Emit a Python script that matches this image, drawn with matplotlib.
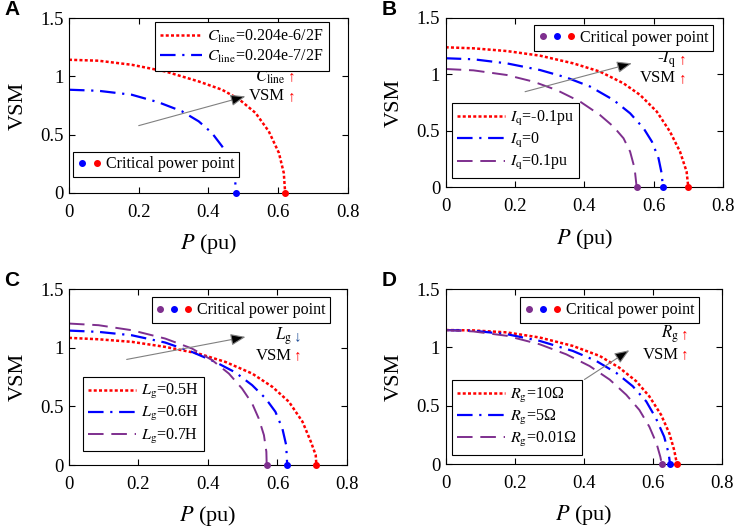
import matplotlib
matplotlib.use('Agg')
import matplotlib.pyplot as plt
from matplotlib.lines import Line2D
from matplotlib.legend_handler import HandlerTuple

plt.rcParams['font.family'] = ['Liberation Serif', 'DejaVu Sans']
plt.rcParams['mathtext.fontset'] = 'stix'

RED = '#ff0000'
BLUE = '#0000ff'
PURPLE = '#7e2f8e'

# ---- data (P in pu, VSM) ----
# A: line capacitance
a_p_red = [0, 0.084, 0.180, 0.276, 0.372, 0.439, 0.487, 0.535, 0.573, 0.602, 0.616, 0.620]
a_v_red = [1.142, 1.134, 1.099, 1.042, 0.956, 0.885, 0.805, 0.686, 0.528, 0.343, 0.171, 0]
a_p_blue = [0, 0.084, 0.180, 0.257, 0.324, 0.372, 0.410, 0.439, 0.463, 0.474, 0.478, 0.478]
a_v_blue = [0.885, 0.876, 0.842, 0.777, 0.700, 0.614, 0.514, 0.400, 0.286, 0.171, 0.057, 0]

# B: reactive current
b_p_red = [0, 0.080, 0.176, 0.272, 0.368, 0.445, 0.513, 0.561, 0.609, 0.647, 0.676, 0.695, 0.700]
b_v_red = [1.239, 1.230, 1.206, 1.165, 1.097, 1.024, 0.920, 0.817, 0.670, 0.493, 0.316, 0.139, 0]
b_p_blue = [0, 0.080, 0.176, 0.272, 0.349, 0.417, 0.484, 0.532, 0.571, 0.595, 0.614, 0.624, 0.626]
b_v_blue = [1.142, 1.133, 1.097, 1.038, 0.971, 0.891, 0.773, 0.655, 0.522, 0.404, 0.257, 0.109, 0]
b_p_purple = [0, 0.080, 0.176, 0.253, 0.320, 0.388, 0.445, 0.484, 0.513, 0.532, 0.545, 0.551]
b_v_purple = [1.047, 1.035, 0.994, 0.935, 0.861, 0.758, 0.640, 0.537, 0.434, 0.316, 0.168, 0]

# C: grid inductance
c_p_red = [0, 0.085, 0.181, 0.277, 0.373, 0.450, 0.527, 0.585, 0.633, 0.672, 0.696, 0.710, 0.712]
c_v_red = [1.084, 1.072, 1.050, 1.007, 0.950, 0.879, 0.780, 0.667, 0.539, 0.369, 0.199, 0.085, 0]
c_p_blue = [0, 0.085, 0.181, 0.277, 0.354, 0.421, 0.479, 0.527, 0.566, 0.594, 0.614, 0.625, 0.628]
c_v_blue = [1.146, 1.135, 1.106, 1.044, 0.964, 0.879, 0.789, 0.681, 0.567, 0.454, 0.312, 0.170, 0]
c_p_purple = [0, 0.085, 0.181, 0.277, 0.354, 0.412, 0.460, 0.498, 0.527, 0.546, 0.561, 0.568, 0.569]
c_v_purple = [1.206, 1.192, 1.149, 1.078, 0.993, 0.894, 0.780, 0.652, 0.525, 0.397, 0.255, 0.113, 0]

# D: grid resistance
d_p_red = [0, 0.080, 0.176, 0.272, 0.368, 0.446, 0.503, 0.552, 0.590, 0.624, 0.648, 0.662, 0.670]
d_v_red = [1.149, 1.146, 1.129, 1.085, 1.013, 0.927, 0.826, 0.710, 0.580, 0.422, 0.263, 0.119, 0]
d_p_blue = [0, 0.080, 0.176, 0.272, 0.368, 0.436, 0.494, 0.542, 0.581, 0.609, 0.633, 0.646, 0.650]
d_v_blue = [1.149, 1.143, 1.114, 1.056, 0.970, 0.884, 0.782, 0.667, 0.537, 0.393, 0.234, 0.090, 0]
d_p_purple = [0, 0.080, 0.176, 0.272, 0.349, 0.417, 0.475, 0.523, 0.561, 0.590, 0.611, 0.622, 0.626]
d_v_purple = [1.149, 1.137, 1.100, 1.027, 0.941, 0.840, 0.724, 0.594, 0.464, 0.320, 0.175, 0.060, 0]

a_labels = [r'$C_{\rm line}$=0.204e-6/2F', r'$C_{\rm line}$=0.204e-7/2F']
b_labels = [r'$I_{\rm q}$=-0.1pu', r'$I_{\rm q}$=0', r'$I_{\rm q}$=0.1pu']
c_labels = [r'$L_{\rm g}$=0.5H', r'$L_{\rm g}$=0.6H', r'$L_{\rm g}$=0.7H']
d_labels = [r'$R_{\rm g}$=10Ω', r'$R_{\rm g}$=5Ω', r'$R_{\rm g}$=0.01Ω']

styles = {
    RED: dict(ls=(0, (1.2, 0.9)), lw=1.8),
    BLUE: dict(ls=(0, (7, 3, 1, 3)), lw=1.6),
    PURPLE: dict(ls=(0, (8, 4)), lw=1.4),
}


def setup(ax, letter):
    ax.set_xlim(0, 0.8)
    ax.set_ylim(0, 1.5)
    ax.set_xticks([0, 0.2, 0.4, 0.6, 0.8])
    ax.set_xticklabels(['0', '0.2', '0.4', '0.6', '0.8'])
    ax.set_yticks([0, 0.5, 1, 1.5])
    ax.set_yticklabels(['0', '0.5', '1', '1.5'])
    ax.tick_params(direction='in', top=True, right=True, length=4, width=0.8,
                   labelsize=13.5)
    ax.tick_params(axis='x', pad=8)
    ax.tick_params(axis='y', pad=4)
    for s in ax.spines.values():
        s.set_linewidth(0.8)
    ax.set_xlabel(r'$P$ (pu)', fontsize=16, labelpad=8)
    ax.set_ylabel('VSM', fontsize=16, labelpad=9)
    ax.text(-0.232, 1.05, letter, transform=ax.transAxes, fontsize=15,
            fontweight='bold', family='Liberation Sans', va='center')


def curves(ax, series, labels, loc_anchor, hl=3.0):
    handles = []
    for (p, v, c), lab in zip(series, labels):
        h, = ax.plot(p, v, color=c, label=lab, **styles[c])
        handles.append(h)
    for p, v, c in series:
        ax.plot(p[-1], 0, 'o', color=c, ms=4, clip_on=False, zorder=5)
    leg = ax.legend(handles=handles, loc='upper left', bbox_to_anchor=loc_anchor,
                    fontsize=11.5, fancybox=False, edgecolor='black', framealpha=1,
                    handlelength=hl, borderpad=0.35, labelspacing=0.2,
                    handletextpad=0.3, borderaxespad=0)
    leg.get_frame().set_linewidth(0.8)
    return leg


def critical(ax, colors, anchor):
    dots = tuple(Line2D([], [], marker='o', ls='none', color=c, ms=4) for c in colors)
    leg = ax.legend([dots], ['Critical power point'], loc='upper left',
                    bbox_to_anchor=anchor, fontsize=11.5, fancybox=False,
                    edgecolor='black', framealpha=1, borderpad=0.3,
                    handlelength=0.75 * len(colors), handletextpad=0.3, borderaxespad=0,
                    handler_map={tuple: HandlerTuple(ndivide=None, pad=0.4)})
    leg.get_frame().set_linewidth(0.8)
    return leg


def trend(ax, tail, head, param, p_color, txt_xy, vsm_xy):
    ax.annotate('', xy=head, xytext=tail,
                arrowprops=dict(arrowstyle='-|>,head_length=0.9,head_width=0.35',
                                ec='gray', fc='black', lw=0.8, mutation_scale=10,
                                shrinkA=0, shrinkB=0))
    ax.text(txt_xy[0], txt_xy[1], param, fontsize=12, ha='right', va='center')
    ax.text(txt_xy[0] + 0.008, txt_xy[1], '↓' if p_color != RED else '↑',
            color=p_color, fontsize=11, ha='left', va='center')
    ax.text(vsm_xy[0], vsm_xy[1], 'VSM', fontsize=12, ha='right', va='center')
    ax.text(vsm_xy[0] + 0.008, vsm_xy[1], '↑', color=RED, fontsize=11,
            ha='left', va='center')


fig = plt.figure(figsize=(7.4, 5.3), dpi=100)
axA = fig.add_axes([0.0932, 0.636, 0.377, 0.330])
axB = fig.add_axes([0.6023, 0.6466, 0.3747, 0.3198])
axC = fig.add_axes([0.0932, 0.1226, 0.3757, 0.332])
axD = fig.add_axes([0.6024, 0.1245, 0.373, 0.330])

# A
setup(axA, 'A')
legA = curves(axA, [(a_p_red, a_v_red, RED), (a_p_blue, a_v_blue, BLUE)], a_labels,
              (0.308, 0.977), hl=2.6)
axA.add_artist(legA)
critical(axA, [BLUE, RED], (0.013, 0.236))
trend(axA, (0.2, 0.577), (0.506, 0.828), r'$C_{\rm line}$', RED, (0.62, 1.0), (0.62, 0.83))

# B
setup(axB, 'B')
legB = curves(axB, [(b_p_red, b_v_red, RED), (b_p_blue, b_v_blue, BLUE),
                    (b_p_purple, b_v_purple, PURPLE)], b_labels, (0.022, 0.496))
axB.add_artist(legB)
critical(axB, [PURPLE, BLUE, RED], (0.32, 0.958))
trend(axB, (0.229, 0.846), (0.537, 1.097), r'-$I_{\rm q}$', RED, (0.665, 1.13), (0.665, 0.965))

# C
setup(axC, 'C')
legC = curves(axC, [(c_p_red, c_v_red, RED), (c_p_blue, c_v_blue, BLUE),
                    (c_p_purple, c_v_purple, PURPLE)], c_labels, (0.049, 0.502))
axC.add_artist(legC)
critical(axC, [PURPLE, BLUE, RED], (0.297, 0.953))
trend(axC, (0.166, 0.90), (0.508, 1.092), r'$L_{\rm g}$', '#1f4e99', (0.64, 1.098), (0.64, 0.93))

# D
setup(axD, 'D')
legD = curves(axD, [(d_p_red, d_v_red, RED), (d_p_blue, d_v_blue, BLUE),
                    (d_p_purple, d_v_purple, PURPLE)], d_labels, (0.021, 0.48))
axD.add_artist(legD)
critical(axD, [PURPLE, BLUE, RED], (0.269, 0.953))
trend(axD, (0.402, 0.725), (0.532, 0.976), r'$R_{\rm g}$', RED, (0.675, 1.114), (0.675, 0.935))

fig.savefig('out.png', dpi=100)
